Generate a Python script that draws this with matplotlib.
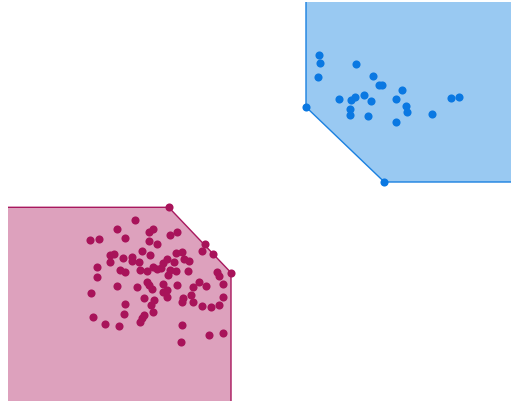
import numpy as np
import matplotlib.pyplot as plt

# cluster A (blue, upper right)
blue_x = [319.3, 320, 318.3, 355.7, 372.7, 379, 382.3, 402.3, 339, 355, 350.7,
          363.7, 371, 396, 349.7, 350, 368, 406, 407, 396, 431.7, 450.7, 459,
          306, 384.3]
blue_y = [55, 63, 76.7, 64.3, 76, 85.3, 85.3, 90.3, 98.7, 97.3, 100.3,
          95, 101, 99, 108.7, 114.7, 115.7, 106, 112.3, 122, 114.3, 98.3, 97.3,
          107, 182]
# hull, open sides run past the plot area and get clipped
blue_hull_x = [306, 306, 384.3, 530, 530]
blue_hull_y = [-20, 107, 182, 182, -20]

# cluster B (magenta, lower left)
pink_x = [168.7, 135, 117.3, 152.7, 149.3, 176.7, 170.3, 89.7, 99.3, 125, 149.3,
          156.7, 205.3, 201.7, 212.7, 142, 110, 114, 150.3, 176, 181.7, 123.3,
          131.7, 132.3, 110, 139.3, 166.7, 163.3, 174, 184.3, 189.3, 96.7, 120,
          125, 140, 146.7, 153.3, 156.7, 160.7, 170, 176, 188.3, 216.7, 219.3,
          231, 96.7, 167.7, 146.7, 149.3, 151.7, 137.3, 117, 163.3, 166.7, 176.7,
          199.3, 206, 192.7, 222.7, 91.3, 163.3, 166.7, 191.3, 144, 182.7, 182,
          193.3, 223, 154, 151, 125, 201.7, 210.7, 219.3, 152.7, 93.3, 123.7,
          144, 141.7, 140, 105, 119.3, 181.7, 209.3, 223, 181]
pink_y = [207.3, 220, 228.7, 228.7, 232.3, 232.3, 235, 240.3, 239, 237.7, 240.7,
          244, 244.3, 251, 253.7, 250.7, 255.3, 254.3, 255, 252.7, 252.3, 257.7,
          256.7, 261, 262, 262.3, 258.7, 262.7, 261.7, 259.3, 260.7, 267, 270,
          272, 270, 270.7, 266.7, 269, 267.7, 270, 271, 270.7, 271.7, 275.7,
          272.7, 277, 275, 282, 285.3, 288.7, 286.7, 286.3, 283.7, 290, 285.3,
          282.3, 285.7, 287.3, 284.3, 292.7, 291.7, 296.7, 295, 297.7, 298.3, 302.3,
          302.3, 297.3, 300.3, 304.7, 303.7, 306.3, 307, 305, 312, 316.7, 314.3,
          315, 318.3, 322.3, 324, 326, 324.7, 335, 333.3, 342.3]
pink_hull_x = [-20, -20, 168.7, 231, 231]
pink_hull_y = [430, 207.3, 207.3, 272.7, 430]

W, H = 511, 403
x0, x1 = 7.5, 511
y0, y1 = 1.5, 400.5

fig = plt.figure(figsize=(W / 100, H / 100), dpi=100)
ax = fig.add_axes([x0 / W, (H - y1) / H, (x1 - x0) / W, (y1 - y0) / H])
ax.set_xlim(x0, x1)
ax.set_ylim(y1, y0)
ax.axis('off')

ax.fill(blue_hull_x, blue_hull_y, facecolor='#99c9f2', edgecolor='#1a80e0',
        linewidth=1, zorder=1)
ax.fill(pink_hull_x, pink_hull_y, facecolor='#dda1bd', edgecolor='#a8185e',
        linewidth=1, zorder=1)

ax.scatter(blue_x, blue_y, s=34, color='#0a78e2', linewidths=0, zorder=3,
           clip_on=False)
ax.scatter(pink_x, pink_y, s=34, color='#a8135a', linewidths=0, zorder=3,
           clip_on=False)

fig.savefig('out.png', dpi=100)
